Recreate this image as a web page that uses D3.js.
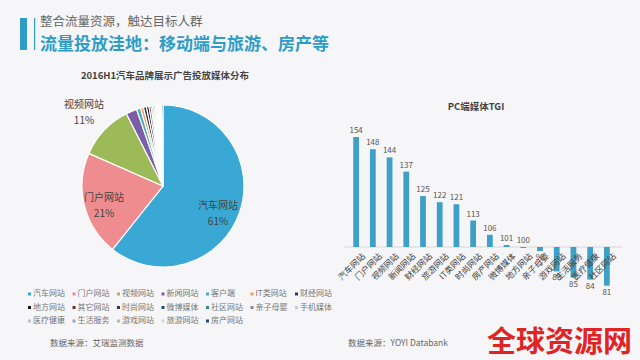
<!DOCTYPE html>
<html><head><meta charset="utf-8">
<script src="https://cdn.jsdelivr.net/npm/d3@7"></script>
<style>
html,body{margin:0;padding:0;background:#f6f6f8;}
svg{display:block;font-family:"Noto Sans CJK SC","Noto Sans",sans-serif;}
</style></head>
<body>
<svg id="c" width="640" height="360"></svg>
<script>
// ---- data ----
const pieCategories = ["汽车网站","门户网站","视频网站","新闻网站","客户端","IT类网站","财经网站","地方网站","其它网站","时尚网站","微博媒体","社区网站","亲子母婴","手机媒体","医疗健康","生活服务","游戏网站","旅游网站","房产网站"];
const pieValues = [61,21,11,2.2,0.8,0.6,0.6,0.5,0.4,0.3,0.3,0.3,0.2,0.2,0.2,0.2,0.2,0.2,0.3];
const pieColors = ["#3aa8d4","#ee8c90","#9cbb58","#7b5ea6","#4bacc6","#f79a4a","#2a3a5a","#1a1a1a","#7a2a2a","#3b3b3b","#1f4e79","#31859c","#8a8a8a","#c9c9c9","#bfbfbf","#8ea9c4","#9dc7a0","#d8d8d8","#254a7a"];
const pieLabelShown = ["汽车网站","门户网站","视频网站"];
const pieLabelPct = ["61%","21%","11%"];

const barCategories = ["汽车网站","门户网站","视频网站","新闻网站","财经网站","旅游网站","IT类网站","时尚网站","房产网站","微博媒体","地方网站","亲子母婴","游戏网站","生活服务","医疗健康","社区网站"];
const barValues = [154,148,144,137,125,122,121,113,106,101,100,98,88,85,84,81];
const barBaseline = 100;

const svg = d3.select("#c");

// ---- header ----
svg.append("rect").attr("x",20).attr("y",18).attr("width",7).attr("height",32).attr("fill","#2f9cc8");
svg.append("rect").attr("x",34).attr("y",18).attr("width",1.2).attr("height",32).attr("fill","#2f9cc8");
svg.append("text").attr("x",40).attr("y",26).attr("font-size",12.5).attr("fill","#666").text("整合流量资源，触达目标人群");
svg.append("text").attr("x",40).attr("y",50).attr("font-size",17).attr("font-weight","bold").attr("fill","#2f9cc8").text("流量投放洼地：移动端与旅游、房产等");

// ---- pie ----
svg.append("text").attr("x",165).attr("y",79).attr("text-anchor","middle").attr("font-size",9.5).attr("font-weight","bold").attr("fill","#444").text("2016H1汽车品牌展示广告投放媒体分布");
const cx=163, cy=186, r=81;
const pie = d3.pie().sort(null).value(d=>d)(pieValues);
const arc = d3.arc().innerRadius(0).outerRadius(r);
const g = svg.append("g").attr("transform",`translate(${cx},${cy})`);
g.selectAll("path").data(pie).join("path").attr("d",arc)
  .attr("fill",(d,i)=>pieColors[i]).attr("stroke","#fff").attr("stroke-width",1.2);
const labelPos = [[218,209],[104,201],[84,108]];
pieLabelShown.forEach((t,i)=>{
  svg.append("text").attr("x",labelPos[i][0]).attr("y",labelPos[i][1]).attr("text-anchor","middle").attr("font-size",10).attr("fill","#444").text(t);
  svg.append("text").attr("x",labelPos[i][0]).attr("y",labelPos[i][1]+16).attr("text-anchor","middle").attr("font-size",10).attr("fill","#444").text(pieLabelPct[i]);
});

// ---- legend ----
const lg = svg.append("g");
pieCategories.forEach((c,i)=>{
  const col=i%7,row=Math.floor(i/7);
  const x=28+col*44.5, y=296+row*13.5;
  lg.append("rect").attr("x",x).attr("y",y-3.5).attr("width",3).attr("height",3).attr("fill",pieColors[i]);
  lg.append("text").attr("x",x+5).attr("y",y).attr("font-size",8).attr("fill","#777").text(c);
});
svg.append("text").attr("x",50).attr("y",346).attr("font-size",8.5).attr("fill","#666").text("数据来源：艾瑞监测数据");

// ---- bar chart ----
svg.append("text").attr("x",476).attr("y",110).attr("text-anchor","middle").attr("font-size",9.5).attr("font-weight","bold").attr("fill","#444").text("PC端媒体TGI");
const x = d3.scaleBand().domain(barCategories).range([342.3,620.7]).padding(0.655);
const y = d3.scaleLinear().domain([75,160]).range([247+25*2.037, 247-60*2.037]);
svg.append("line").attr("x1",344).attr("x2",622).attr("y1",y(barBaseline)).attr("y2",y(barBaseline)).attr("stroke","#d6d6d6").attr("stroke-width",1);
const bars = svg.append("g");
barCategories.forEach((c,i)=>{
  const v=barValues[i];
  const y0=y(Math.max(v,barBaseline)), h=Math.max(Math.abs(y(v)-y(barBaseline)),1);
  bars.append("rect").attr("x",x(c)).attr("y",v>=barBaseline?y0:y(barBaseline)).attr("width",x.bandwidth()).attr("height",h).attr("fill","#3ea0c8");
  const cxp = x(c)+x.bandwidth()/2;
  const ly = v>=barBaseline ? y(v)-4 : y(v)+9;
  bars.append("text").attr("x",cxp).attr("y",ly).attr("text-anchor","middle").attr("font-size",8).attr("fill","#555").text(v);
  bars.append("text").attr("transform",`translate(${cxp+4},${y(barBaseline)+4}) rotate(-45)`).attr("text-anchor","end").attr("dominant-baseline","hanging").attr("font-size",8.5).attr("fill","#444").text(c);
});
svg.append("text").attr("x",348).attr("y",346).attr("font-size",8.5).attr("fill","#666").text("数据来源：YOYI Databank");

// watermark
svg.append("text").attr("x",487).attr("y",352).attr("font-size",29).attr("font-weight","bold").attr("fill","#e02424").text("全球资源网");
</script>
</body></html>
